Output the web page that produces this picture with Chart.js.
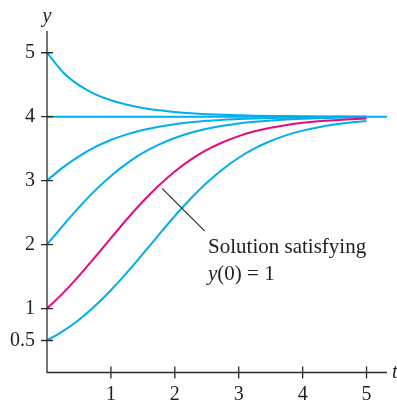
<!DOCTYPE html>
<html><head><meta charset="utf-8">
<script src="https://cdn.jsdelivr.net/npm/chart.js@4/dist/chart.umd.min.js"></script>
<style>html,body{margin:0;padding:0;background:#fff}</style>
</head><body>
<canvas id="c" width="397" height="400"></canvas>
<script>
// ---- data ----
const tValues = [0,0.25,0.5,0.75,1,1.25,1.5,1.75,2,2.25,2.5,2.75,3,3.25,3.5,3.75,4,4.25,4.5,4.75,5];
const yStart5   = [5.00,4.696,4.493,4.354,4.256,4.187,4.137,4.100,4.074,4.054,4.040,4.030,4.022,4.016,4.012,4.009,4.007,4.005,4.004,4.003,4.002];
const yStart3   = [3.00,3.208,3.381,3.523,3.635,3.723,3.791,3.843,3.883,3.912,3.935,3.951,3.964,3.973,3.980,3.985,3.989,3.992,3.994,3.996,3.997];
const yStart2   = [2.00,2.298,2.583,2.844,3.074,3.270,3.433,3.563,3.667,3.748,3.810,3.858,3.894,3.921,3.941,3.956,3.967,3.976,3.982,3.987,3.990];
const yStart1   = [1.00,1.241,1.511,1.802,2.101,2.396,2.674,2.925,3.144,3.329,3.480,3.601,3.697,3.771,3.828,3.871,3.904,3.928,3.946,3.960,3.970];
const yStart05  = [0.50,0.647,0.826,1.040,1.287,1.561,1.854,2.153,2.447,2.720,2.966,3.179,3.358,3.504,3.620,3.712,3.782,3.836,3.877,3.908,3.932];
const tFlat = [0, 5.32];
const yFlat = [4, 4];
const xTicks = [1,2,3,4,5];
const yTicks = [0.5,1,2,3,4,5];
const leaderT = [1.80, 2.47];
const leaderY = [2.88, 2.21];
const noteT = 2.52;
const noteY = [1.87, 1.45];
const noteLine1 = 'Solution satisfying';
const noteVar = 'y';
const noteRest = '(0) = 1';
const xMax = 5.32, yMax = 5.34;

const CYAN = '#00AEEF', MAGENTA = '#E6097F', AXIS = '#2b2b2b';
const FONT = '"Liberation Serif", "Times New Roman", serif';

const pts = (xs, ys) => xs.map((x, i) => ({x, y: ys[i]}));
const ds = (xs, ys, color, order) => ({
  data: pts(xs, ys), borderColor: color, borderWidth: 2, showLine: true,
  pointRadius: 0, cubicInterpolationMode: 'monotone', fill: false, order
});

const decor = {
  id: 'decor',
  afterDraw(chart) {
    const {ctx, chartArea: a, scales: {x, y}} = chart;
    ctx.save();
    ctx.strokeStyle = AXIS; ctx.lineWidth = 1.3;
    ctx.beginPath();
    ctx.moveTo(a.left, a.top); ctx.lineTo(a.left, a.bottom); ctx.lineTo(a.right, a.bottom);
    xTicks.forEach(v => { const p = x.getPixelForValue(v); ctx.moveTo(p, a.bottom - 6); ctx.lineTo(p, a.bottom + 6); });
    yTicks.forEach(v => { const p = y.getPixelForValue(v); ctx.moveTo(a.left - 6, p); ctx.lineTo(a.left + 6, p); });
    ctx.stroke();
    // leader line
    ctx.beginPath(); ctx.lineWidth = 1.2;
    ctx.moveTo(x.getPixelForValue(leaderT[0]), y.getPixelForValue(leaderY[0]));
    ctx.lineTo(x.getPixelForValue(leaderT[1]), y.getPixelForValue(leaderY[1]));
    ctx.stroke();
    ctx.fillStyle = '#222';
    ctx.textBaseline = 'alphabetic';
    // axis titles
    ctx.font = 'italic 20px ' + FONT;
    ctx.textAlign = 'center';
    ctx.fillText('y', a.left, a.top - 9);
    ctx.textAlign = 'left';
    ctx.fillText('t', a.right + 5, a.bottom + 5);
    // note
    const nx = x.getPixelForValue(noteT);
    ctx.font = '21px ' + FONT;
    ctx.fillText(noteLine1, nx, y.getPixelForValue(noteY[0]));
    ctx.font = 'italic 21px ' + FONT;
    const y2 = y.getPixelForValue(noteY[1]);
    ctx.fillText(noteVar, nx, y2);
    const w = ctx.measureText(noteVar).width;
    ctx.font = '21px ' + FONT;
    ctx.fillText(noteRest, nx + w, y2);
    ctx.restore();
  }
};

new Chart(document.getElementById('c'), {
  type: 'scatter',
  data: { datasets: [
    ds(tValues, yStart1, MAGENTA, 0),
    ds(tFlat, yFlat, CYAN, 1),
    ds(tValues, yStart5, CYAN, 1),
    ds(tValues, yStart3, CYAN, 1),
    ds(tValues, yStart2, CYAN, 1),
    ds(tValues, yStart05, CYAN, 1)
  ]},
  options: {
    responsive: false, animation: false,
    layout: { padding: { left: 0, top: 31, right: 10, bottom: 0 } },
    plugins: { legend: { display: false }, tooltip: { enabled: false } },
    scales: {
      x: {
        type: 'linear', min: 0, max: xMax,
        grid: { display: false }, border: { display: false },
        afterBuildTicks: s => { s.ticks = xTicks.map(v => ({value: v})); },
        afterFit: s => { s.height = 27.5; },
        ticks: { font: { family: FONT, size: 20 }, color: '#222', padding: 2, maxRotation: 0 }
      },
      y: {
        type: 'linear', min: 0, max: yMax,
        grid: { display: false }, border: { display: false },
        afterBuildTicks: s => { s.ticks = yTicks.map(v => ({value: v})); },
        afterFit: s => { s.width = 47; },
        ticks: { font: { family: FONT, size: 20 }, color: '#222', padding: 4 }
      }
    }
  },
  plugins: [decor]
});
</script>
</body></html>
